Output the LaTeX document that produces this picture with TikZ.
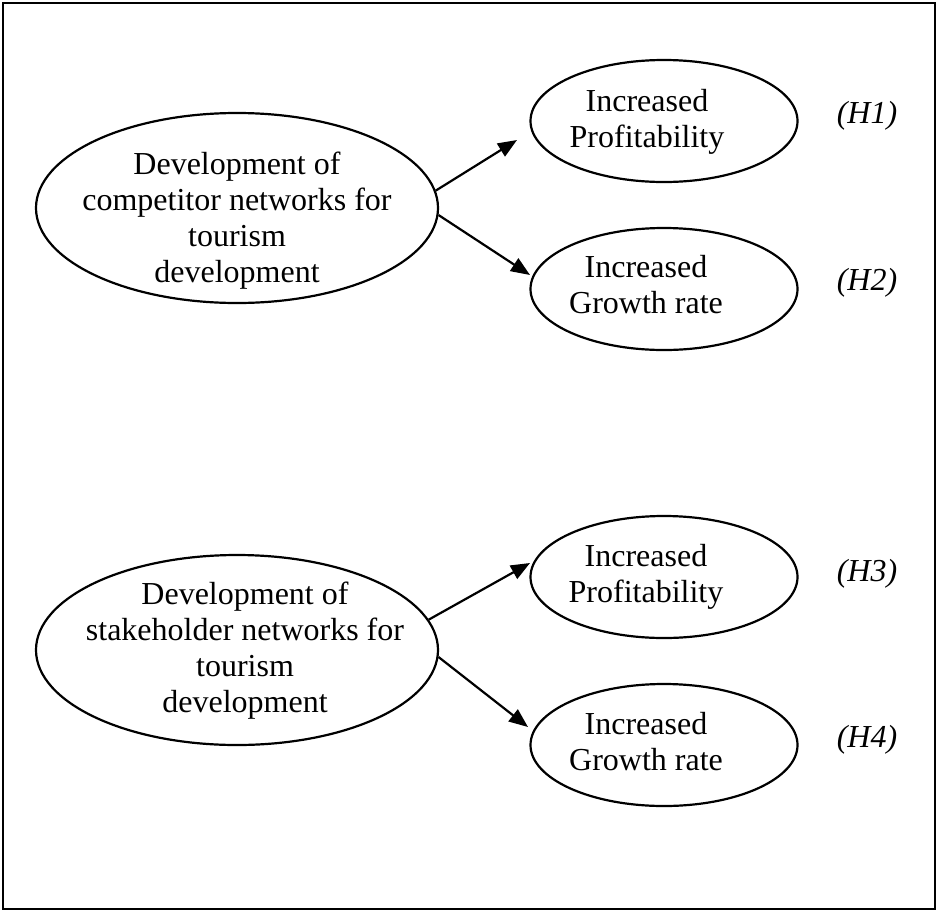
\documentclass[tikz,border=0pt]{standalone}
\usepackage{fontspec}
\setmainfont{Liberation Serif}
\usetikzlibrary{shapes.geometric,arrows.meta}
\tikzset{
  oval/.style={draw, ellipse, line width=2.2pt, inner sep=0pt},
  bigoval/.style={oval, minimum width=402pt, minimum height=190pt},
  smalloval/.style={oval, minimum width=267pt, minimum height=122pt},
  lbl/.style={align=center, anchor=base, inner sep=0pt, font=\fontsize{32}{35.8}\selectfont},
  hyp/.style={anchor=base, inner sep=0pt, font=\fontsize{32}{35.8}\selectfont\itshape},
  link/.style={line width=2.2pt, -{Triangle[length=19pt,width=15pt]}}
}
\begin{document}
\begin{tikzpicture}[x=1pt,y=-1pt]
\useasboundingbox (0,0) rectangle (937,911);
\draw[line width=2.4pt] (3,3) rectangle (935,909);

\node[bigoval] (big1) at (237,208) {};
\node[bigoval] (big2) at (237,650) {};
\node[smalloval] (s1) at (664,121) {};
\node[smalloval] (s2) at (664,289) {};
\node[smalloval] (s3) at (664,577) {};
\node[smalloval] (s4) at (664,745) {};

\node[lbl] (big1t) at (237,282) {Development of\\competitor networks for\\tourism\\development};
\node[lbl] (big2t) at (245,712) {Development of\\stakeholder networks for\\tourism\\development};
\node[lbl] (s1t) at (647,147) {Increased\\Profitability};
\node[lbl] (s2t) at (646,313) {Increased\\Growth rate};
\node[lbl] (s3t) at (646,602) {Increased\\Profitability};
\node[lbl] (s4t) at (646,770) {Increased\\Growth rate};

\node[hyp] (h1) at (867,123) {(H1)};
\node[hyp] (h2) at (867,290) {(H2)};
\node[hyp] (h3) at (867,581) {(H3)};
\node[hyp] (h4) at (867,747) {(H4)};

\coordinate (t1) at (517,140);
\coordinate (t2) at (530,275);
\coordinate (t3) at (530,563);
\coordinate (t4) at (528,727);

\draw[link] (big1.5) -- (t1);
\draw[link] (big1.-2) -- (t2);
\draw[link] (big2.9) -- (t3);
\draw[link] (big2.-2) -- (t4);
\end{tikzpicture}
\end{document}
